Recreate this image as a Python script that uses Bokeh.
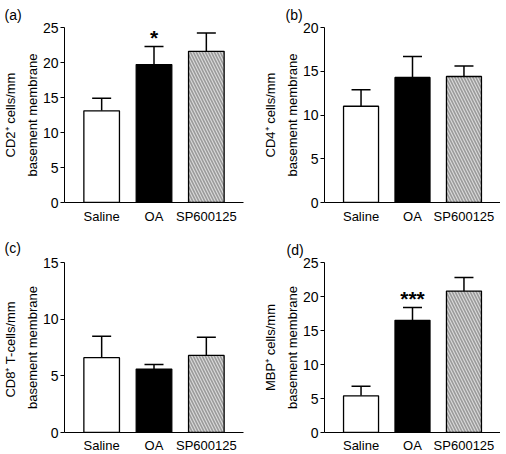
from bokeh.plotting import figure
from bokeh.models import (ColumnDataSource, Whisker, TeeHead,
                          SingleIntervalTicker, Range1d, FactorRange)
from bokeh.layouts import gridplot
from bokeh.embed import file_html
from bokeh.resources import INLINE
from bokeh.core.properties import value

# ---------------- data ----------------
groups = ["Saline", "OA", "SP600125"]

cd2_mean = [13.1, 19.7, 21.6]
cd2_upper = [14.9, 22.3, 24.2]

cd4_mean = [11.0, 14.3, 14.4]
cd4_upper = [12.9, 16.7, 15.6]

cd8_mean = [6.6, 5.6, 6.8]
cd8_upper = [8.5, 6.0, 8.4]

mbp_mean = [5.4, 16.5, 20.8]
mbp_upper = [6.8, 18.4, 22.8]

y_max = [25, 20, 15, 25]
panel_tags = ["(a)", "(b)", "(c)", "(d)"]
y_titles = [
    "CD2\u207a cells/mm\nbasement membrane",
    "CD4\u207a cells/mm\nbasement membrane",
    "CD8\u207a  T-cells/mm\nbasement membrane",
    "MBP\u207a cells/mm\nbasement membrane",
]
signif = ["*", "", "", "***"]

bar_fill = ["white", "black", "#d9d9d9"]
bar_hatch = [" ", " ", "\\"]

FONT = "Liberation Sans"


def make_panel(idx, means, uppers, left, right, fw, top, fh, bottom,
               standoff, tag_dx, tag_standoff):
    src = ColumnDataSource(dict(x=groups, top=means, upper=uppers,
                                fill=bar_fill, hatch=bar_hatch))
    p = figure(x_range=FactorRange(*groups, range_padding=0.21,
                                   range_padding_units="absolute"),
               y_range=Range1d(0, y_max[idx]),
               frame_width=fw, frame_height=fh,
               min_border_left=left, min_border_right=right,
               min_border_top=top, min_border_bottom=bottom,
               title=panel_tags[idx],
               output_backend="svg", toolbar_location=None)
    p.outline_line_color = None
    p.grid.grid_line_color = None
    p.background_fill_color = "white"
    p.border_fill_color = "white"

    p.title.align = "left"
    p.title.offset = tag_dx
    p.title.standoff = tag_standoff
    p.title.text_font = FONT
    p.title.text_font_size = "14px"
    p.title.text_font_style = "normal"
    p.title.text_color = "black"

    p.vbar(x="x", top="top", width=0.68, source=src, fill_color="fill",
           line_color="black", line_width=1.3, hatch_pattern="hatch",
           hatch_color="#9a9a9a", hatch_scale=6, hatch_weight=1.6)

    w = Whisker(base="x", lower="top", upper="upper", source=src,
                line_color="black", line_width=1.5, lower_head=None,
                upper_head=TeeHead(size=19, line_color="black", line_width=1.5))
    p.add_layout(w)

    if signif[idx]:
        p.text(x=[groups[1]], y=[uppers[1]], text=[signif[idx]],
               text_align="center", text_baseline="alphabetic", y_offset=-9,
               text_font=value(FONT), text_font_size="21px",
               text_font_style="bold", text_color="black")

    # axes
    for ax in (p.xaxis[0], p.yaxis[0]):
        ax.axis_line_color = "black"
        ax.axis_line_width = 1
        ax.major_label_text_font = FONT
        ax.major_label_text_color = "black"
        ax.minor_tick_line_color = None
        ax.minor_tick_out = 0
        ax.minor_tick_in = 0
    p.xaxis.major_label_text_font_size = "13px"
    p.xaxis.major_tick_line_color = None
    p.xaxis.major_tick_out = 0
    p.xaxis.major_tick_in = 0
    p.xaxis.major_label_standoff = standoff
    p.yaxis.major_label_text_font_size = "14px"
    p.yaxis.ticker = SingleIntervalTicker(interval=5, num_minor_ticks=0)
    p.yaxis.major_tick_out = 4
    p.yaxis.major_tick_in = 0
    p.yaxis.major_tick_line_color = "black"
    p.yaxis.major_label_standoff = 2
    p.yaxis.axis_label = y_titles[idx]
    p.yaxis.axis_label_text_font = FONT
    p.yaxis.axis_label_text_font_size = "13px"
    p.yaxis.axis_label_text_font_style = "normal"
    p.yaxis.axis_label_text_color = "black"
    p.yaxis.axis_label_standoff = 0
    p.yaxis.axis_label_text_line_height = 1.45
    return p


pa = make_panel(0, cd2_mean, cd2_upper, 62, 3, 179, 27, 175, 20, 6, -60, 9)
pb = make_panel(1, cd4_mean, cd4_upper, 78, 0, 176, 27, 175, 20, 6, -39, 9)
pc = make_panel(2, cd8_mean, cd8_upper, 62, 3, 179, 36, 170, 18, 5, -60, 13)
pd = make_panel(3, mbp_mean, mbp_upper, 78, 0, 176, 36, 170, 18, 5, -38, 10)

grid = gridplot([[pa, pb], [pc, pd]], toolbar_location=None)

open("out.html", "w").write(file_html(grid, INLINE))
